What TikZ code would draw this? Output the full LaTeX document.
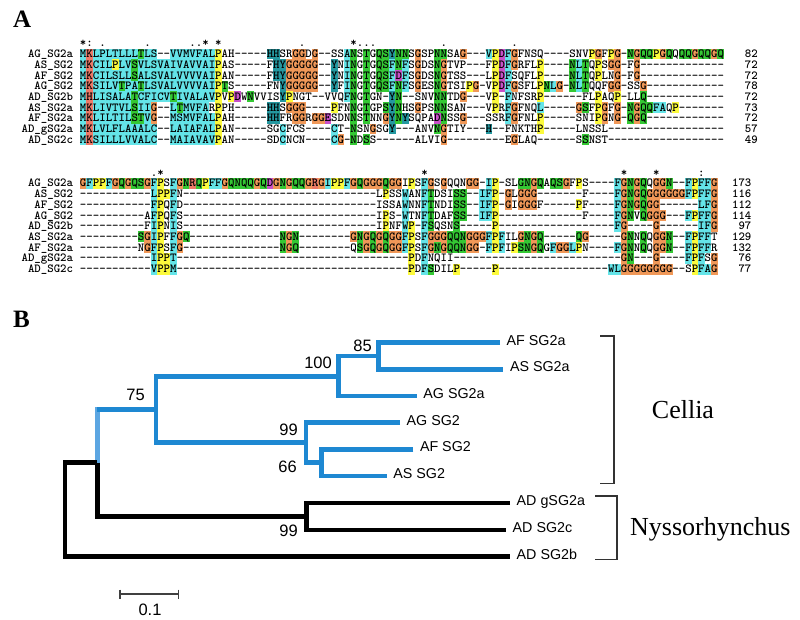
\documentclass[tikz,border=0pt]{standalone}
\usepackage{fontspec}
\setmainfont{Liberation Serif}
\setsansfont{Liberation Sans}
\usetikzlibrary{positioning}

% residue colours
\definecolor{resCyan}{RGB}{100,228,232}
\definecolor{resRed}{RGB}{238,122,104}
\definecolor{resGreen}{RGB}{52,200,52}
\definecolor{resOrange}{RGB}{240,152,88}
\definecolor{resYellow}{RGB}{252,250,60}
\definecolor{resMagenta}{RGB}{200,80,200}
\definecolor{resTeal}{RGB}{36,152,160}
\definecolor{treeBlue}{RGB}{30,136,210}
\definecolor{stemBlue}{RGB}{92,166,226}

\def\rcA{resCyan}\def\rcC{resCyan}\def\rcF{resCyan}\def\rcI{resCyan}
\def\rcL{resCyan}\def\rcM{resCyan}\def\rcV{resCyan}\def\rcW{resCyan}
\def\rcK{resRed}\def\rcR{resRed}
\def\rcS{resGreen}\def\rcT{resGreen}\def\rcN{resGreen}\def\rcQ{resGreen}
\def\rcG{resOrange}\def\rcP{resYellow}
\def\rcD{resMagenta}\def\rcE{resMagenta}
\def\rcH{resTeal}\def\rcY{resTeal}
\def\mcc{resCyan}\def\mcr{resRed}\def\mcg{resGreen}

\newcount\alncol
\def\alnstop#1{}
\def\alngo#1{#1}
\newcommand\alncell[2]{%
  \if-#1\else\if.#2\else
    \if+#2\edef\cellcol{\csname rc#1\endcsname}\else\edef\cellcol{\csname mc#2\endcsname}\fi
    \fill[\cellcol] ({79.9+6.44*\the\alncol},{\alny-5.45}) rectangle +(6.64,10.9);
  \fi\fi
  \node[res] at ({83.22+6.44*\the\alncol},{\alny+3.6}) {#1};}
\def\alnnext#1#2\relax#3#4\relax{%
  \alncell{#1}{#3}%
  \advance\alncol by 1
  \ifx\relax#2\relax\expandafter\alnstop\else\expandafter\alngo\fi
  {\alnnext#2\relax#4\relax}}
\newcommand\alnrow[3]{\def\alny{#1}\alncol=0 \alnnext#2\relax#3..........\relax}

\begin{document}
\begin{tikzpicture}[x=1pt, y=-1pt,
    res/.style={font=\ttfamily\bfseries\fontsize{12.27}{12.27}\selectfont, inner sep=0pt, anchor=base},
    seqname/.style={font=\ttfamily\bfseries\fontsize{12.27}{12.27}\selectfont, inner sep=0pt, anchor=base east},
    panel/.style={font=\bfseries\fontsize{25}{25}\selectfont, inner sep=0pt, anchor=base west},
    leaf/.style={font=\sffamily\fontsize{14.3}{14.3}\selectfont, anchor=west, inner xsep=6.5pt, inner ysep=0pt, text height=10.5pt, text depth=5.9pt},
    boot/.style={font=\sffamily\fontsize{16.5}{16.5}\selectfont, inner sep=0pt, anchor=base east},
    clade/.style={font=\fontsize{26}{26}\selectfont, inner sep=0pt, anchor=base west},
    cel/.style={draw=treeBlue, line width=4.5pt},
    stem/.style={draw=stemBlue, line width=4.5pt, line cap=rect},
    nys/.style={draw=black, line width=4.5pt},
    brk/.style={draw=black!80, line width=1.6pt},
    scalebar/.style={draw=black!75, line width=1.4pt}
]
\fill[white] (0,0) rectangle (800,619);
\useasboundingbox (0,0) rectangle (800,619);

\node[panel] (pA) at (13,27) {A};
\node[panel] (pB) at (13,327) {B};

% alignment, first block
\foreach \c/\s in {0/*,1/:,3/.,10/.,17/.,18/.,19/*,21/*,34/.,42/*,43/.,44/.,45/.,56/.,67/.}
  \node[res] at ({83.22+6.44*\c},46.7) {\s};
\alnrow{54}{MKLPLTLLLT LS--VVMVFA LPAH-----H HSRGGDG--S SANSTGQSYN NSGSPNNSAG ---VPDFGFN SQ----SNVP GFPG-NGQQP GQQQQGQQGQ}
           {+++c+c++++ +c..++++++ ++.......+ +..++.+... .++.+.++++ +.+..++..+ ...+++++.. .........+ +.++.+++++ ++.+++++++}
\alnrow{64.72}{MKCILPLVSV LSVAIVAVVA IPAS-----F HYGGGGG--Y NINGTGQSFN FSGDSNGTVP ---FPDFGRF LP----NLTQ PSGG-FG--- ----------}
              {++++++++++ +c++++++++ ++........ +++++++..+ .++.+.++++ +.+..++... ....++++.. .+....+++. +.++..+... ..........}
\alnrow{75.44}{MKCILSLLSA LSVALVVVVA IPAN-----F HYGGGGG--Y NINGTGQSFD FSGDSNGTSS ---LPDFSQF LP----NLTQ PLNG-FG--- ----------}
              {+++++c++++ +c++++++++ ++........ +++++++..+ .++.+.++++ +.+..++... ....+++... .+....+++. +..+..+... ..........}
\alnrow{86.16}{MKSILVTPAT LSVALVVVVA IPTS-----F NYGGGGG--Y FINGTGQSFN FSGESNGTSI PG-VPDFGSF LPNLG-NLTQ QFGG-SSG-- ----------}
              {++c++++c++ +c++++++++ +++....... .++++++..+ .++.+.++++ +.+..++... ++..++++.. .++++.+++. ..++...+.. ..........}
\alnrow{96.88}{MHLISALATC FICVTIVALA VPVPDWNVVI SYPNGT--VV QFNGTGN-YN --SNVNNTDG ---VP-FNFS RP------FL PAQP-LLQ-- ----------}
              {+r++c+++++ ++++++++++ ++.++.+... .++....... .++.+...++ .....++..+ ....+.+... .+........ +..+...+.. ..........}
\alnrow{107.6}{MKLIVTVLSI IG--LTMVFA RPPH-----H HSGGG----P FNNGTGPSYN HSGPSNNSAN ---VPRFGFN QL-----GSF PGFG-NGQQF AQP-------}
              {+++++c++++ ++..++++++ .+.......+ +.+++....+ ..+.+..+++ ..+..++... ....+.++.. .+.....++. ++.+.+++++ +.+.......}
\alnrow{118.32}{MKLILTILST VG--MSMVFA LPAH-----H HFRGGRGGES DNNSTNNGYN YSQPADNSSG ---SSRFGFN LP-----SNI PGNG-QGQ-- ----------}
               {+++++c++++ ++..+c++++ ++.......+ +..++.+++. ..+.+..+++ +....++..+ ......++.. .+........ ++.+.+++.. ..........}
\alnrow{129.04}{MKLVLFLAAA LC--LAIAFA LPAN-----S GCFCS----C T-NSNGSGY- --ANVNGTIY ---H--FNKT HP-----LNS SL-------- ----------}
               {++++++++++ ++..++++++ ++........ .+.......+ ..+..+..+. .....++... ...+...... .+........ .......... ..........}
\alnrow{139.76}{MKSILLLVVA LC--MAIAVA VPAN-----S DCNCN----C G-NDSS---- --ALVIG--- ------EGLA Q------SSN ST-------- ----------}
               {++c+++++++ ++..++++++ ++........ .+.......+ +.+.+..... ......+... .......+.. ........+. .......... ..........}

% alignment, second block
\foreach \c/\s in {11/.,12/*,53/*,84/*,89/*,96/:}
  \node[res] at ({83.22+6.44*\c},176) {\s};
\alnrow{183.3}{GFPPFGQGQS GFPSFGNRQP FFGQNQQGQD GNGQQGRGIP PFGQGGGQGG IPSFGSGQQN GG-IP-SLGN GQAQSGFPS- ---FGNGQQG GN--FPFFG}
              {++++++++++ +++.++++++ ++++++++++ ++++++++++ ++++++++++ .+.++.+... ++.++...g+ ++.+++.+.. ...+++++.+ ++..+++++}
\alnrow{194.02}{---------- -LPPFN---- ---------- ---------- ------LPSS WANFTDSISS --IFP-GLGG G-------F- ---FGNGQGG GGGGFPFFG}
               {.......... .++++..... .......... .......... .......+.. +..++...++ ..+++.+.++ +......... ...+++++++ +++++++++}
\alnrow{204.74}{---------- -FPQFD---- ---------- ---------- ------ISSA WNNFTNDISS --IFP-GIGG GF-----PF- ---FGNGQGG ------LFG}
               {.......... .++.+..... .......... .......... .......... +..++...++ ..+++.+.++ +......+.. ...+++++++ ......+++}
\alnrow{215.46}{---------- AFPQFS---- ---------- ---------- ------IPS- WTNFTDAFSS --IFP----- --------F- ---FGNVQGG G---FPFFG}
               {.......... .++.+..... .......... .......... .......+.. +..++...++ ..+++..... .......... ...+++.+++ +...+++++}
\alnrow{226.18}{---------- FIPNIS---- ---------- ---------- ------IPNF WP-FSQSNS- ----P----- ---------- ---FG----G ------IFG}
               {.......... .++.+..... .......... .......... .......+.. ++.++...+. ....+..... .......... ...++....+ ......+++}
\alnrow{236.9}{---------S GIPFFGQ--- ---------- -NGN------ --GNGQGQGG FPSFGGGQQN GGGFPFILGN GQ-----QG- ----GNNQQG GN--FPFFT}
              {.........+ +++.+++... .......... .+++...... ..++++++++ ++.+++++++ ++++++..++ ++.....++. ....++.+.+ ++..++++.}
\alnrow{247.62}{---------N GFPSFG---- ---------- -NGQ------ --QSGQGQGG FPSFGNGQQN GG-FPFIPSN GQGFGGLPN- ---FGNNQQG GN--FPFFR}
               {.......... +++.++.... .......... .+++...... ...+++++++ ++.+++++++ ++.+++.+++ ++.+++++.. ...+++.+.+ ++..++++.}
\alnrow{258.34}{---------- -IPPT----- ---------- ---------- ---------- -PDFNQII-- ---------- ---------- ----GN---G ----FPFSG}
               {.......... .+++c..... .......... .......... .......... .+.+...... .......... .......... ....++...+ ....+++.+}
\alnrow{269.06}{---------- -VPPM----- ---------- ---------- ---------- -PDFSDILP- ----P----- ---------- --WLGGGGGG GG--SPFAG}
               {.......... .++++..... .......... .......... .......... .+.++...+. ....+..... .......... ..++++++++ ++...++++}

% names and lengths
\foreach \nm/\la/\lb [count=\i] in {AG\_SG2a/82/173, AS\_SG2/72/116, AF\_SG2/72/112, AG\_SG2/78/114,
    AD\_SG2b/72/97, AS\_SG2a/73/129, AF\_SG2a/72/132, AD\_gSG2a/57/76, AD\_SG2c/49/77}{
  \node[seqname] (nameA\i) at (73.3,{57.6+10.72*(\i-1)}) {\nm};
  \node[seqname] (lenA\i) at (758,{57.6+10.72*(\i-1)}) {\la};
  \node[seqname] (nameB\i) at (73.3,{186.9+10.72*(\i-1)}) {\nm};
  \node[seqname] (lenB\i) at (751.6,{186.9+10.72*(\i-1)}) {\lb};
}

% tree
\coordinate (n85) at (378.3,356);
\coordinate (n100) at (338.3,376.7);
\coordinate (n75) at (156,409.5);
\coordinate (n99a) at (306,442.7);
\coordinate (n66) at (321.7,462.7);
\coordinate (nCN) at (97.3,462.7);
\coordinate (n99b) at (306.7,516.7);
\coordinate (root) at (65,509.7);

\node[leaf] (afsga) at (500,342.7) {AF SG2a};
\node[leaf] (assga) at (503.3,369.3) {AS SG2a};
\node[leaf] (agsga) at (416.7,396) {AG SG2a};
\node[leaf] (agsg) at (400,422.7) {AG SG2};
\node[leaf] (afsg) at (413.3,449.3) {AF SG2};
\node[leaf] (assg) at (386.7,476) {AS SG2};
\node[leaf] (adgsga) at (510,503) {AD gSG2a};
\node[leaf] (adsgc) at (506,530) {AD SG2c};
\node[leaf] (adsgb) at (510,556.7) {AD SG2b};

\draw[stem] (n75 -| nCN) -- (nCN);
\draw[cel] (afsga.west) -| (n85) |- (assga.west);
\draw[cel] (n85) -| (n100) |- (agsga.west);
\draw[cel] (n100) -| (n75) |- (n99a);
\draw[cel] (agsg.west) -| (n99a) |- (n66);
\draw[cel] (afsg.west) -| (n66) |- (assg.west);
\draw[cel] (n75) -- (n75 -| nCN);
\draw[nys] (nCN) |- (n99b);
\draw[nys] (adgsga.west) -| (n99b) |- (adsgc.west);
\draw[nys] (nCN) -| (root) |- (adsgb.west);

\node[boot] (b85) at (372,351.7) {85};
\node[boot] (b100) at (332,368) {100};
\node[boot] (b75) at (145,400) {75};
\node[boot] (b99a) at (298,435) {99};
\node[boot] (b66) at (297,472) {66};
\node[boot] (b99b) at (298,536) {99};

% scale
\coordinate (sbl) at (120,594);
\coordinate (sbr) at (178.3,594);
\draw[scalebar] (sbl) -- (sbr) (sbl) ++(0,-4.5) -- ++(0,9) (sbr) ++(0,-4.5) -- ++(0,9);
\node[boot, anchor=base] (sblab) at (150,615) {0.1};

% clades
\draw[brk] (600,335.7) -- (614,335.7) -- (614,483.3) -- (600,483.3);
\draw[brk] (595,496) -- (616.7,496) -- (616.7,559.3) -- (595,559.3);
\node[clade] (cellia) at (651.7,418.3) {Cellia};
\node[clade] (nysso) at (630,535) {Nyssorhynchus};
\end{tikzpicture}
\end{document}
